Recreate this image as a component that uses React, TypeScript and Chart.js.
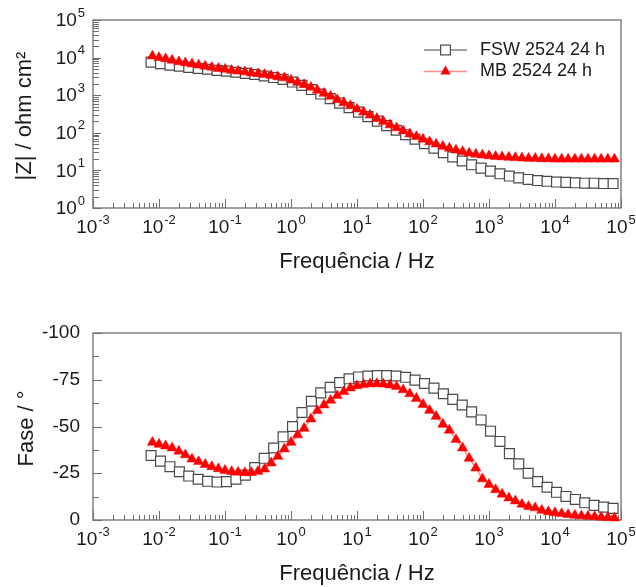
import React, { useEffect, useRef } from 'react';
import { Chart, registerables } from 'chart.js';

Chart.register(...registerables);

// ---------- data ----------
// FSW series: 7 points per decade
const FSW_FREQUENCIES_HZ = [
  0.00759, 0.01054, 0.01466, 0.02037, 0.02825, 0.03926, 0.05458, 0.07586, 0.1054, 0.1466,
  0.2037, 0.2825, 0.3926, 0.5458, 0.7586, 1.054, 1.466, 2.037, 2.825, 3.926,
  5.458, 7.586, 10.54, 14.66, 20.37, 28.25, 39.26, 54.58, 75.86, 105.4,
  146.6, 203.7, 282.5, 392.6, 545.8, 758.6, 1054, 1466, 2037, 2825,
  3926, 5458, 7586, 10540, 14660, 20370, 28250, 39260, 54580, 75860,
];

const FSW_Z = [
  7586, 6918, 6310, 5888, 5495, 5129, 4898, 4571, 4365, 4074,
  3802, 3548, 3236, 2951, 2630, 2239, 1820, 1413, 1072, 813,
  617, 468, 355, 269, 204, 155, 117, 89.1, 67.6, 51.3,
  38.9, 29.5, 22.9, 17.8, 14.1, 11.5, 9.55, 8.13, 7.08, 6.31,
  5.75, 5.37, 5.13, 4.9, 4.79, 4.68, 4.57, 4.57, 4.47, 4.47,
];

const FSW_PHASE = [
  -34.5, -31.5, -28.5, -25.8, -23.5, -21.8, -20.7, -20.3, -20.5, -21.8,
  -24.0, -28.0, -33.0, -38.5, -44.5, -50.0, -57.5, -63.5, -68.0, -71.0,
  -73.5, -75.5, -76.5, -77.0, -77.2, -77.2, -77.0, -76.3, -74.8, -73.0,
  -70.5, -67.5, -64.5, -61.5, -57.8, -53.5, -47.5, -42.0, -35.5, -30.0,
  -25.0, -20.5, -17.5, -14.8, -12.6, -11.0, -9.2, -7.8, -6.9, -6.2,
];

// MB series: 10 points per decade
const MB_FREQUENCIES_HZ = [
  0.00794, 0.01, 0.0126, 0.0158, 0.02, 0.0251, 0.0316, 0.0398, 0.0501, 0.0631,
  0.0794, 0.1, 0.126, 0.158, 0.2, 0.251, 0.316, 0.398, 0.501, 0.631,
  0.794, 1, 1.26, 1.58, 2, 2.51, 3.16, 3.98, 5.01, 6.31,
  7.94, 10, 12.6, 15.8, 20, 25.1, 31.6, 39.8, 50.1, 63.1,
  79.4, 100, 126, 158, 200, 251, 316, 398, 501, 631,
  794, 1000, 1260, 1580, 2000, 2510, 3160, 3980, 5010, 6310,
  7940, 10000, 12600, 15800, 20000, 25100, 31600, 39800, 50100, 63100,
  79400,
];

const MB_Z = [
  10965, 10000, 9333, 8511, 7762, 7244, 6761, 6310, 5888, 5495,
  5129, 4898, 4571, 4365, 4169, 3890, 3715, 3548, 3311, 3090,
  2884, 2512, 2188, 1905, 1622, 1349, 1122, 933, 759, 631,
  525, 427, 355, 295, 240, 200, 162, 135, 112, 93.3,
  79.4, 67.6, 57.5, 50.1, 43.7, 38.9, 34.7, 31.6, 28.8, 26.9,
  25.7, 24.5, 23.4, 22.9, 22.4, 21.9, 21.4, 20.9, 20.9, 20.4,
  20.4, 20.0, 20.0, 20.0, 20.0, 20.0, 20.0, 20.0, 20.0, 20.0,
  20.0,
];

const MB_PHASE = [
  -41.5, -40.5, -39.6, -38.5, -36.8, -34.8, -32.6, -31.2, -29.7, -28.5,
  -27.4, -26.5, -25.9, -25.5, -25.3, -25.4, -26.0, -27.2, -30.5, -34.0,
  -38.0, -41.5, -45.5, -49.0, -54.0, -58.5, -61.5, -64.0, -66.5, -68.7,
  -70.6, -71.8, -72.4, -72.8, -72.9, -72.7, -72.2, -71.3, -69.6, -67.5,
  -65.0, -61.8, -58.6, -55.4, -51.2, -48.0, -43.0, -38.5, -33.0, -27.8,
  -22.0, -19.0, -16.2, -13.8, -11.8, -10.2, -8.4, -7.2, -6.5, -5.2,
  -4.4, -3.9, -3.4, -2.9, -2.5, -2.2, -2.0, -1.8, -1.5, -1.3,
  -1.1,
];

const SERIES_LABELS = ['FSW 2524 24 h', 'MB 2524 24 h'];
const X_DECADES = [-3, -2, -1, 0, 1, 2, 3, 4, 5];
const Z_DECADES = [0, 1, 2, 3, 4, 5];
const PHASE_TICKS = [-100, -75, -50, -25, 0];
const PHASE_MINOR_TICKS = [-87.5, -62.5, -37.5, -12.5];
const X_TITLE = 'Frequência / Hz';
const Z_TITLE = '|Z| / ohm cm²';
const PHASE_TITLE = 'Fase / °';

// ---------- styles ----------
const FONT = '"Liberation Sans", Arial, Helvetica, sans-serif';
const FRAME_COLOR = '#6e6e6e';
const TEXT_COLOR = '#1a1a1a';
const FSW_COLOR = '#4a4a4a';
const MB_COLOR = '#ff0000';
const MB_LINE = '#ff8c8c';

function drawPow(ctx: CanvasRenderingContext2D, x: number, y: number, exp: number, align: 'center' | 'right') {
  ctx.font = `19px ${FONT}`;
  const w1 = ctx.measureText('10').width;
  ctx.font = `13px ${FONT}`;
  const es = String(exp);
  const w2 = ctx.measureText(es).width;
  const total = w1 + 1 + w2;
  const sx = align === 'center' ? x - total / 2 : x - total;
  ctx.textAlign = 'left';
  ctx.textBaseline = 'middle';
  ctx.font = `19px ${FONT}`;
  ctx.fillText('10', sx, y);
  ctx.font = `13px ${FONT}`;
  ctx.fillText(es, sx + w1 + 1, y - 8);
}

const framePlugin = {
  id: 'bodeFrame',
  beforeDatasetsDraw(chart: any, _args: any, opts: any) {
    const { ctx, chartArea: a } = chart;
    const xs = chart.scales.x;
    const ys = chart.scales.y;
    ctx.save();
    ctx.strokeStyle = FRAME_COLOR;
    ctx.lineWidth = 1.3;
    ctx.strokeRect(a.left, a.top, a.right - a.left, a.bottom - a.top);

    ctx.lineWidth = 1;
    ctx.beginPath();
    const lastDec = X_DECADES[X_DECADES.length - 1];
    for (const d of X_DECADES) {
      const px = Math.round(xs.getPixelForValue(10 ** d)) + 0.5;
      ctx.moveTo(px, a.bottom);
      ctx.lineTo(px, a.bottom - 9);
      if (d < lastDec) {
        for (let m = 2; m <= 9; m++) {
          const p = Math.round(xs.getPixelForValue(m * 10 ** d)) + 0.5;
          ctx.moveTo(p, a.bottom);
          ctx.lineTo(p, a.bottom - 5);
        }
      }
    }
    if (opts.yLog) {
      const lastZ = Z_DECADES[Z_DECADES.length - 1];
      for (const d of Z_DECADES) {
        const py = Math.round(ys.getPixelForValue(10 ** d)) + 0.5;
        ctx.moveTo(a.left, py);
        ctx.lineTo(a.left + 8, py);
        if (d < lastZ) {
          for (let m = 2; m <= 9; m++) {
            const p = Math.round(ys.getPixelForValue(m * 10 ** d)) + 0.5;
            ctx.moveTo(a.left, p);
            ctx.lineTo(a.left + 6, p);
          }
        }
      }
    } else {
      for (const v of PHASE_TICKS) {
        const py = Math.round(ys.getPixelForValue(v)) + 0.5;
        ctx.moveTo(a.left, py);
        ctx.lineTo(a.left + 9, py);
      }
      for (const v of PHASE_MINOR_TICKS) {
        const py = Math.round(ys.getPixelForValue(v)) + 0.5;
        ctx.moveTo(a.left, py);
        ctx.lineTo(a.left + 6, py);
      }
    }
    ctx.stroke();

    // tick labels
    ctx.fillStyle = TEXT_COLOR;
    for (const d of X_DECADES) {
      drawPow(ctx, xs.getPixelForValue(10 ** d), a.bottom + 20, d, 'center');
    }
    if (opts.yLog) {
      for (const d of Z_DECADES) {
        drawPow(ctx, a.left - 8, ys.getPixelForValue(10 ** d) + 1, d, 'right');
      }
    } else {
      ctx.font = `19px ${FONT}`;
      ctx.textAlign = 'right';
      ctx.textBaseline = 'middle';
      for (const v of PHASE_TICKS) {
        ctx.fillText(String(v), a.left - 13, ys.getPixelForValue(v));
      }
    }

    // axis titles
    ctx.font = `22px ${FONT}`;
    ctx.textAlign = 'center';
    ctx.textBaseline = 'middle';
    ctx.fillText(X_TITLE, (a.left + a.right) / 2, a.bottom + 54);
    ctx.save();
    ctx.translate(opts.yTitleX, (a.top + a.bottom) / 2 + 2);
    ctx.rotate(-Math.PI / 2);
    ctx.fillText(opts.yTitle, 0, 0);
    ctx.restore();
    ctx.restore();
  },
  afterDatasetsDraw(chart: any, _args: any, opts: any) {
    if (!opts.legend) return;
    const { ctx, chartArea: a } = chart;
    ctx.save();
    const x0 = a.right - 197;
    const x1 = x0 + 43;
    const mx = (x0 + x1) / 2;
    const rows = [a.top + 30, a.top + 51.5];
    // FSW row
    ctx.lineWidth = 1;
    ctx.strokeStyle = FSW_COLOR;
    ctx.beginPath();
    ctx.moveTo(x0, rows[0]);
    ctx.lineTo(x1, rows[0]);
    ctx.stroke();
    ctx.fillStyle = '#ffffff';
    ctx.lineWidth = 1.2;
    ctx.fillRect(mx - 4.9, rows[0] - 4.9, 9.8, 9.8);
    ctx.strokeRect(mx - 4.9, rows[0] - 4.9, 9.8, 9.8);
    // MB row
    ctx.strokeStyle = MB_LINE;
    ctx.lineWidth = 1.5;
    ctx.beginPath();
    ctx.moveTo(x0, rows[1]);
    ctx.lineTo(x1, rows[1]);
    ctx.stroke();
    ctx.fillStyle = MB_COLOR;
    const r = 5.9;
    ctx.beginPath();
    ctx.moveTo(mx, rows[1] - r);
    ctx.lineTo(mx + r * 0.866, rows[1] + r / 2);
    ctx.lineTo(mx - r * 0.866, rows[1] + r / 2);
    ctx.closePath();
    ctx.fill();
    // texts
    ctx.fillStyle = TEXT_COLOR;
    ctx.font = `18px ${FONT}`;
    ctx.textAlign = 'left';
    ctx.textBaseline = 'middle';
    ctx.fillText(SERIES_LABELS[0], x1 + 13, rows[0]);
    ctx.fillText(SERIES_LABELS[1], x1 + 13, rows[1]);
    ctx.restore();
  },
};

function makeDatasets(fsw: number[], mb: number[]) {
  return [
    {
      label: SERIES_LABELS[0],
      data: FSW_FREQUENCIES_HZ.map((f, i) => ({ x: f, y: fsw[i] })),
      showLine: true,
      borderColor: FSW_COLOR,
      borderWidth: 1,
      pointStyle: 'rect',
      pointRadius: 7,
      pointBackgroundColor: '#ffffff',
      pointBorderColor: FSW_COLOR,
      pointBorderWidth: 1.2,
      order: 1,
      clip: false,
    },
    {
      label: SERIES_LABELS[1],
      data: MB_FREQUENCIES_HZ.map((f, i) => ({ x: f, y: mb[i] })),
      showLine: true,
      borderColor: MB_LINE,
      borderWidth: 1.5,
      pointStyle: 'triangle',
      pointRadius: 5.9,
      pointBackgroundColor: MB_COLOR,
      pointBorderColor: MB_COLOR,
      pointBorderWidth: 0.5,
      order: 0,
      clip: false,
    },
  ];
}

export default function App() {
  const topRef = useRef<HTMLCanvasElement>(null);
  const botRef = useRef<HTMLCanvasElement>(null);

  useEffect(() => {
    const common = {
      animation: false,
      responsive: false,
      events: [],
    };
    const top = new Chart(topRef.current as HTMLCanvasElement, {
      type: 'scatter',
      data: { datasets: makeDatasets(FSW_Z, MB_Z) as any },
      options: {
        ...common,
        layout: { padding: { left: 93, right: 15, top: 20, bottom: 85 } },
        scales: {
          x: { type: 'logarithmic', min: 1e-3, max: 1e5, display: false },
          y: { type: 'logarithmic', min: 1, max: 1e5, display: false },
        },
        plugins: {
          legend: { display: false },
          tooltip: { enabled: false },
          bodeFrame: { yLog: true, yTitle: Z_TITLE, yTitleX: 25, legend: true },
        } as any,
      } as any,
      plugins: [framePlugin],
    });
    const bot = new Chart(botRef.current as HTMLCanvasElement, {
      type: 'scatter',
      data: { datasets: makeDatasets(FSW_PHASE, MB_PHASE) as any },
      options: {
        ...common,
        layout: { padding: { left: 93, right: 15, top: 40, bottom: 67 } },
        scales: {
          x: { type: 'logarithmic', min: 1e-3, max: 1e5, display: false },
          y: { type: 'linear', min: -100, max: 0, reverse: true, display: false },
        },
        plugins: {
          legend: { display: false },
          tooltip: { enabled: false },
          bodeFrame: { yLog: false, yTitle: PHASE_TITLE, yTitleX: 27, legend: false },
        } as any,
      } as any,
      plugins: [framePlugin],
    });
    return () => {
      top.destroy();
      bot.destroy();
    };
  }, []);

  return (
    <div style={{ position: 'absolute', left: 0, top: 0, width: 636, height: 587, background: '#ffffff' }}>
      <canvas ref={topRef} width={636} height={293} style={{ position: 'absolute', left: 0, top: 0, display: 'block' }} />
      <canvas ref={botRef} width={636} height={294} style={{ position: 'absolute', left: 0, top: 293, display: 'block' }} />
    </div>
  );
}
